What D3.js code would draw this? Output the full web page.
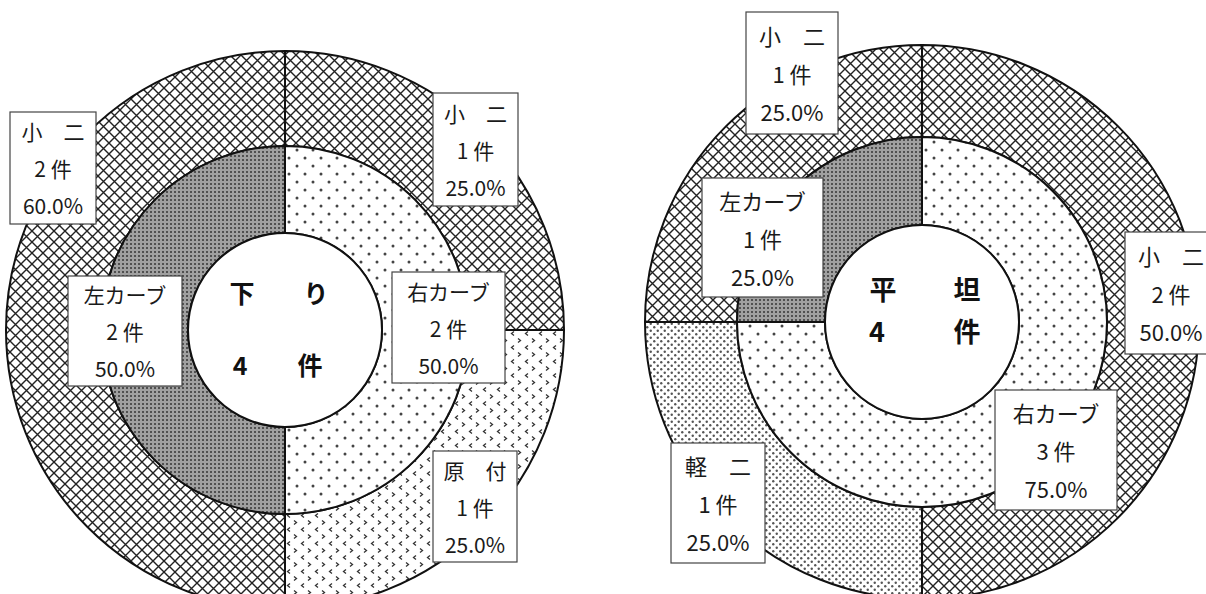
<!DOCTYPE html>
<html>
<head>
<meta charset="utf-8">
<script src="https://cdn.jsdelivr.net/npm/d3@7"></script>
<style>
  body { margin: 0; background: #fff; }
  svg { display: block; }
</style>
</head>
<body>
<div id="chart"></div>
<script>
// 下り
var downInnerNames = ["右カーブ", "左カーブ"];
var downInnerCounts = [2, 2];
var downInnerPcts = ["50.0%", "50.0%"];
var downOuterNames = ["小　二", "原　付", "小　二"];
var downOuterCounts = [1, 1, 2];
var downOuterPcts = ["25.0%", "25.0%", "60.0%"];

// 平坦
var flatInnerNames = ["右カーブ", "左カーブ"];
var flatInnerCounts = [3, 1];
var flatInnerPcts = ["75.0%", "25.0%"];
var flatOuterNames = ["小　二", "軽　二", "小　二"];
var flatOuterCounts = [2, 1, 1];
var flatOuterPcts = ["50.0%", "25.0%", "25.0%"];

var W = 1206, H = 594;

var svg = d3.select("#chart")
    .append("svg")
    .attr("width", W)
    .attr("height", H);

// fill patterns
var defs = svg.append("defs");

var cross = defs.append("pattern").attr("id", "cross")
    .attr("patternUnits", "userSpaceOnUse").attr("width", 11).attr("height", 11);
cross.append("rect").attr("width", 11).attr("height", 11).attr("fill", "#fff");
cross.append("path").attr("d", "M0,0L11,11M11,0L0,11M-1,10L1,12M10,-1L12,1")
    .attr("stroke", "#222").attr("stroke-width", 1.4);

var dark = defs.append("pattern").attr("id", "dark")
    .attr("patternUnits", "userSpaceOnUse").attr("width", 4).attr("height", 4);
dark.append("rect").attr("width", 4).attr("height", 4).attr("fill", "#a0a0a0");
dark.append("rect").attr("x", 1).attr("y", 1).attr("width", 2).attr("height", 2).attr("fill", "#505050");

var dots = defs.append("pattern").attr("id", "dots")
    .attr("patternUnits", "userSpaceOnUse").attr("width", 16).attr("height", 16);
dots.append("rect").attr("width", 16).attr("height", 16).attr("fill", "#fff");
dots.append("circle").attr("cx", 4).attr("cy", 4).attr("r", 1.5).attr("fill", "#444");
dots.append("circle").attr("cx", 12).attr("cy", 12).attr("r", 1.5).attr("fill", "#444");

var fine = defs.append("pattern").attr("id", "fine")
    .attr("patternUnits", "userSpaceOnUse").attr("width", 7).attr("height", 7);
fine.append("rect").attr("width", 7).attr("height", 7).attr("fill", "#fff");
fine.append("circle").attr("cx", 1.75).attr("cy", 1.75).attr("r", 1.2).attr("fill", "#555");
fine.append("circle").attr("cx", 5.25).attr("cy", 5.25).attr("r", 1.2).attr("fill", "#555");

var chev = defs.append("pattern").attr("id", "chev")
    .attr("patternUnits", "userSpaceOnUse").attr("width", 14).attr("height", 14);
chev.append("rect").attr("width", 14).attr("height", 14).attr("fill", "#fff");
chev.append("path").attr("d", "M5,1.5L2.5,3.5L5,5.5M9,8.5L11.5,10.5L9,12.5")
    .attr("fill", "none").attr("stroke", "#333").attr("stroke-width", 1.3);

function drawDonut(cfg) {
    var g = svg.append("g").attr("transform", "translate(" + cfg.cx + "," + cfg.cy + ")");
    var pie = d3.pie().sort(null);

    var outerArc = d3.arc().innerRadius(cfg.rMid).outerRadius(cfg.rOut);
    var innerArc = d3.arc().innerRadius(cfg.rIn).outerRadius(cfg.rMid);

    g.selectAll("path.outer")
        .data(pie(cfg.outerCounts))
        .enter()
        .append("path")
        .attr("class", "outer")
        .attr("d", outerArc)
        .attr("fill", function (d, i) { return "url(#" + cfg.outerFills[i] + ")" })
        .attr("stroke", "#111")
        .attr("stroke-width", 2);

    g.selectAll("path.inner")
        .data(pie(cfg.innerCounts))
        .enter()
        .append("path")
        .attr("class", "inner")
        .attr("d", innerArc)
        .attr("fill", function (d, i) { return "url(#" + cfg.innerFills[i] + ")" })
        .attr("stroke", "#111")
        .attr("stroke-width", 2);

    g.append("circle")
        .attr("r", cfg.rIn)
        .attr("fill", "#fff")
        .attr("stroke", "#111")
        .attr("stroke-width", 2);

    // centre title
    cfg.title.forEach(function (t) {
        g.append("text")
            .text(t.s)
            .attr("x", t.x)
            .attr("y", t.y)
            .attr("text-anchor", "middle")
            .attr("dominant-baseline", "central")
            .style("font-family", "'Noto Sans CJK JP', sans-serif")
            .style("font-weight", "bold")
            .style("font-size", cfg.titleSize + "px")
            .style("fill", "#111");
    });

    // label boxes
    var labels = [];
    cfg.outerCounts.forEach(function (c, i) {
        labels.push({ lines: [cfg.outerNames[i], c + " 件", cfg.outerPcts[i]], box: cfg.outerBoxes[i] });
    });
    cfg.innerCounts.forEach(function (c, i) {
        labels.push({ lines: [cfg.innerNames[i], c + " 件", cfg.innerPcts[i]], box: cfg.innerBoxes[i] });
    });

    labels.forEach(function (l) {
        var b = l.box;
        var lg = g.append("g").attr("transform", "translate(" + b[0] + "," + b[1] + ")");
        lg.append("rect")
            .attr("width", b[2])
            .attr("height", b[3])
            .attr("fill", "#fff")
            .attr("stroke", "#444")
            .attr("stroke-width", 1.2);
        l.lines.forEach(function (s, k) {
            lg.append("text")
                .text(s)
                .attr("x", b[2] / 2)
                .attr("y", b[3] / 2 + (k - 1) * cfg.lineGap)
                .attr("text-anchor", "middle")
                .attr("dominant-baseline", "central")
                .style("font-family", "'Noto Sans CJK JP', sans-serif")
                .style("font-size", cfg.labelSize + "px")
                .style("fill", "#1a1a1a");
        });
    });
}

drawDonut({
    cx: 285, cy: 330, rOut: 279, rMid: 184, rIn: 97,
    outerCounts: downOuterCounts, outerNames: downOuterNames, outerPcts: downOuterPcts,
    innerCounts: downInnerCounts, innerNames: downInnerNames, innerPcts: downInnerPcts,
    outerFills: ["cross", "chev", "cross"],
    innerFills: ["dots", "dark"],
    // [x, y, w, h] relative to centre
    outerBoxes: [[148, -237, 85, 113], [148, 121, 84, 111], [-275, -218, 86, 112]],
    innerBoxes: [[107, -58, 113, 111], [-217, -54, 114, 110]],
    title: [{ s: "下", x: -43, y: -38 }, { s: "り", x: 31, y: -38 },
            { s: "4", x: -45, y: 34 }, { s: "件", x: 25, y: 34 }],
    titleSize: 25, labelSize: 21, lineGap: 37
});

drawDonut({
    cx: 922, cy: 322, rOut: 277, rMid: 185, rIn: 97,
    outerCounts: flatOuterCounts, outerNames: flatOuterNames, outerPcts: flatOuterPcts,
    innerCounts: flatInnerCounts, innerNames: flatInnerNames, innerPcts: flatInnerPcts,
    outerFills: ["cross", "fine", "cross"],
    innerFills: ["dots", "dark"],
    outerBoxes: [[203, -90, 92, 122], [-251, 121, 94, 120], [-176, -310, 92, 122]],
    innerBoxes: [[73, 68, 122, 120], [-220, -144, 121, 119]],
    title: [{ s: "平", x: -39, y: -34 }, { s: "坦", x: 45, y: -34 },
            { s: "4", x: -45, y: 8 }, { s: "件", x: 45, y: 8 }],
    titleSize: 27, labelSize: 22, lineGap: 38
});
</script>
</body>
</html>
